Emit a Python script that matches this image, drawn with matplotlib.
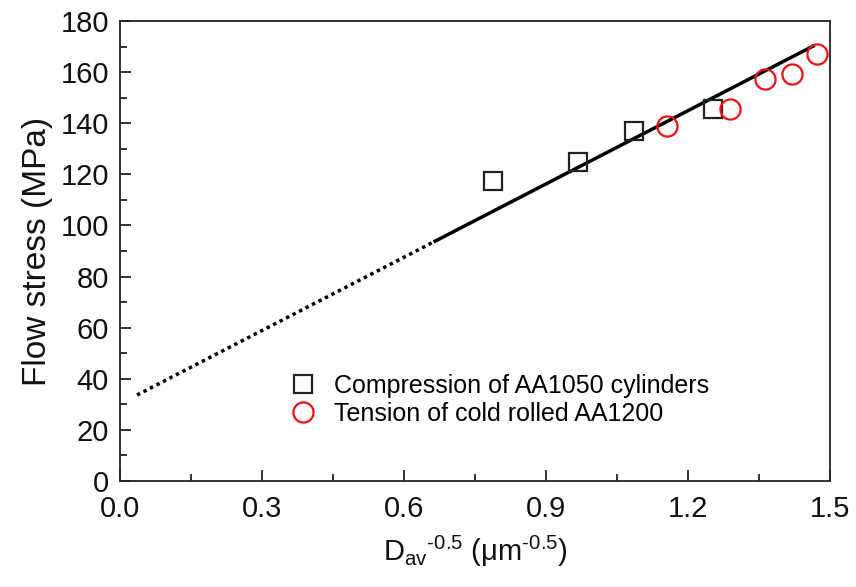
import matplotlib
matplotlib.use("Agg")
import matplotlib.pyplot as plt
import numpy as np
from matplotlib.ticker import MultipleLocator, FormatStrFormatter

plt.rcParams["font.family"] = ["Liberation Sans", "DejaVu Sans"]
plt.rcParams["mathtext.fontset"] = "custom"
plt.rcParams["mathtext.rm"] = "Liberation Sans"
plt.rcParams["mathtext.it"] = "Liberation Sans:italic"

# compression of AA1050 cylinders
comp_d = [0.788, 0.968, 1.086, 1.253]
comp_stress = [117.5, 124.8, 137.0, 145.4]

# tension of cold rolled AA1200
tens_d = [1.156, 1.289, 1.363, 1.420, 1.473]
tens_stress = [139.0, 145.5, 157.3, 159.2, 167.1]

# Hall-Petch fit: sigma = sigma0 + k * D^-0.5
sigma0 = 30.2
k_hp = 95.6
fit_start, fit_split, fit_end = 0.036, 0.666, 1.464

fig = plt.figure(figsize=(8.56, 5.87), dpi=100)
ax = fig.add_axes([120 / 856, 1 - 481 / 587, 710 / 856, 460 / 587])

# extrapolated part dotted, fitted range solid
x_dot = np.array([fit_start, fit_split])
x_sol = np.array([fit_split, fit_end])
ax.plot(x_dot, sigma0 + k_hp * x_dot, color="black", lw=2.5, ls=(0, (1, 1.1)))
ax.plot(x_sol, sigma0 + k_hp * x_sol, color="black", lw=2.5)

ax.plot(comp_d, comp_stress, ls="none", marker="s", ms=12.5, mfc="none",
        mec="#222222", mew=1.6, label="Compression of AA1050 cylinders")
ax.plot(tens_d, tens_stress, ls="none", marker="o", ms=14.5, mfc="none",
        mec="#ee1111", mew=1.6, label="Tension of cold rolled AA1200")

ax.set_xlim(0, 1.5)
ax.set_ylim(0, 180)
ax.xaxis.set_major_locator(MultipleLocator(0.3))
ax.xaxis.set_minor_locator(MultipleLocator(0.15))
ax.yaxis.set_major_locator(MultipleLocator(20))
ax.yaxis.set_minor_locator(MultipleLocator(10))
ax.xaxis.set_major_formatter(FormatStrFormatter("%.1f"))
ax.tick_params(which="both", direction="in", top=False, right=False,
               labelsize=21, width=1.3, color="#222222", labelcolor="#111111")
ax.tick_params(which="major", length=8)
ax.tick_params(axis="x", which="major", pad=10)
ax.tick_params(axis="y", which="major", pad=8)
ax.tick_params(which="minor", length=5)
for sp in ax.spines.values():
    sp.set_linewidth(1.3)
    sp.set_color("#222222")

ax.set_ylabel("Flow stress (MPa)", fontsize=24, color="#111111", labelpad=5)
ax.set_xlabel(r"D$_{\mathrm{av}}$$^{\text{-0.5}}$ ($\mathrm{\mu}$m$^{\text{-0.5}}$)",
              fontsize=21, color="#111111", labelpad=8)

ax.legend(loc="upper left", bbox_to_anchor=(0.226, 0.255), frameon=False,
          fontsize=18, handletextpad=0.75, labelspacing=0.18, borderaxespad=0,
          handlelength=1.0)

fig.savefig("out.png", dpi=100)
